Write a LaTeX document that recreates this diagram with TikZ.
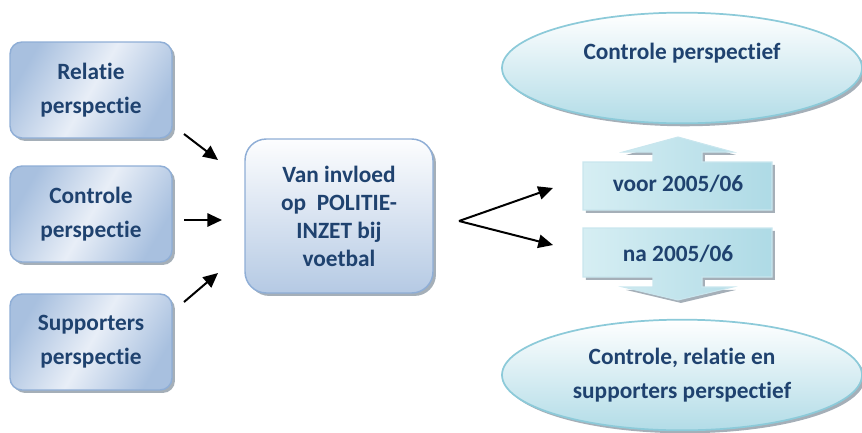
\documentclass[tikz,border=0pt]{standalone}
\usepackage{fontspec}
\setmainfont{Carlito}[Ligatures=NoCommon]
\usepackage{tikz}
\usetikzlibrary{shapes.geometric,shadows,arrows.meta}

\definecolor{tekstblauw}{HTML}{1F426F}
\definecolor{randblauw}{HTML}{8FAED6}
\definecolor{donkerblauw}{HTML}{A8C0DF}
\definecolor{lichtblauw}{HTML}{E8EEF7}
\definecolor{randcyaan}{HTML}{8CCAD9}
\definecolor{cyaan}{HTML}{B2DCE7}
\definecolor{lichtcyaan}{HTML}{D6EEF3}
\definecolor{schaduw}{HTML}{8E9BA6}

\tikzset{pijl/.style={black, line width=1.5pt,
    -{Triangle[length=11pt, width=10pt]}}}

\begin{document}
\begin{tikzpicture}[x=0.75pt,y=-0.75pt]
    \tikzstyle{every node}+=[inner sep=0pt, align=center, text=tekstblauw,
        font=\bfseries\fontsize{17.5}{25.5}\selectfont]
    \tikzstyle{schaduwtje}=[drop shadow={shadow xshift=2.2pt, shadow yshift=-2.2pt, fill=schaduw, opacity=0.8}]
    \tikzstyle{perspectief}=[draw=randblauw, line width=1.1pt, rounded corners=9pt,
        minimum width=121.5pt, minimum height=72pt, schaduwtje,
        top color=donkerblauw, bottom color=donkerblauw, middle color=lichtblauw, shading angle=60]
    \tikzstyle{invloed}=[draw=randblauw, line width=1.1pt, rounded corners=16pt,
        minimum width=141pt, minimum height=115.5pt, schaduwtje,
        top color=white!90!lichtblauw, bottom color=donkerblauw!85]
    \tikzstyle{ovaal}=[ellipse, draw=randcyaan, line width=1.3pt,
        minimum width=270pt, minimum height=83pt, schaduwtje,
        top color=white, bottom color=cyaan]
    \tikzstyle{datumvorm}=[draw=cyaan!70, line width=0.8pt, schaduwtje,
        left color=lichtcyaan, right color=cyaan!90!randcyaan]

    \useasboundingbox (0,0) rectangle (862,432);

    % perspectieven links
    \node [perspectief] (relatie) at (91,90) {Relatie\\perspectie};
    \node [perspectief] (controle) at (91,214) {Controle\\perspectie};
    \node [perspectief] (supporters) at (91,342) {Supporters\\perspectie};

    \node [invloed, font=\bfseries\fontsize{17.5}{21}\selectfont] (inzet) at (339,216)
        {Van invloed\\op\ \ POLITIE-\\INZET bij\\voetbal};

    \coordinate (r1) at (184,134);
    \coordinate (r1e) at (218,160);
    \coordinate (c1) at (184,220);
    \coordinate (c1e) at (222,220);
    \coordinate (s1) at (184,302);
    \coordinate (s1e) at (218,273);
    \draw [pijl] (r1) -- (r1e);
    \draw [pijl] (c1) -- (c1e);
    \draw [pijl] (s1) -- (s1e);

    \coordinate (splits) at (459,221);
    \coordinate (naarvoor) at (553,188);
    \coordinate (naarna) at (553,245);
    \draw [pijl] (splits) -- (naarvoor);
    \draw [pijl] (splits) -- (naarna);

    % ovalen rechts
    \node [ovaal] (boven) at (682,68) {Controle perspectief\\\mbox{}};
    \node [ovaal] (onder) at (682,375) {Controle, relatie en\\supporters perspectief};

    % pijlvormen
    \draw [datumvorm] (583,210) -- (583,162) -- (653,162) -- (653,152) -- (623,152)
        -- (678,137) -- (733,152) -- (702,152) -- (702,162) -- (772,162) -- (772,210) -- cycle;
    \draw [datumvorm] (583,228) -- (583,277) -- (653,277) -- (653,287) -- (623,287)
        -- (678,300) -- (733,287) -- (702,287) -- (702,277) -- (772,277) -- (772,228) -- cycle;
    \node (voor) at (678,184) {voor 2005/06};
    \node (na) at (678,254) {na 2005/06};
\end{tikzpicture}
\end{document}
